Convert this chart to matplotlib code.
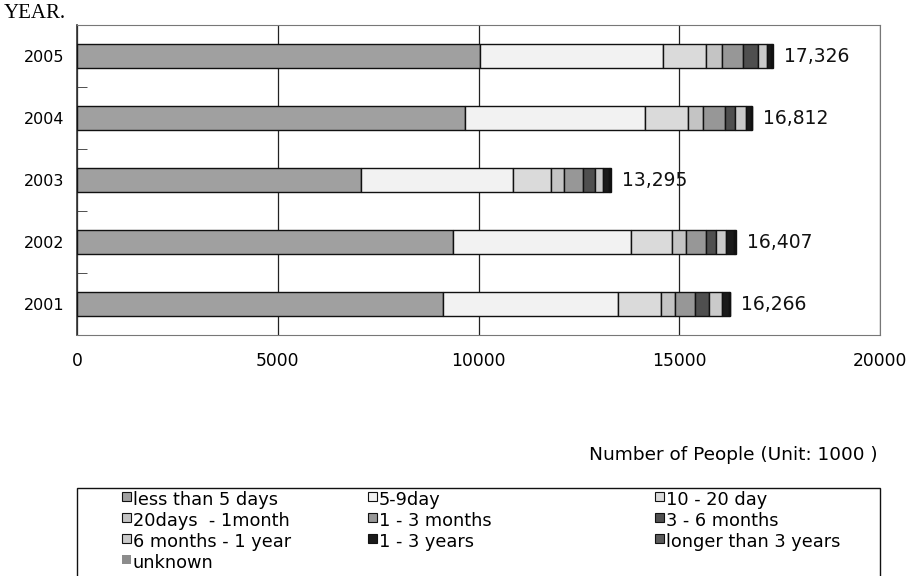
import matplotlib
matplotlib.use("Agg")
import matplotlib.pyplot as plt
from matplotlib.patches import Rectangle
import numpy as np

years = ["2001", "2002", "2003", "2004", "2005"]
categories = ["less than 5 days", "5-9day", "10 - 20 day", "20days  - 1month",
              "1 - 3 months", "3 - 6 months", "6 months - 1 year", "1 - 3 years",
              "longer than 3 years", "unknown"]
# values per category, for years 2001..2005
less5 = [9117, 9375, 7068, 9660, 10035]
d5_9 = [4358, 4418, 3782, 4483, 4550]
d10_20 = [1060, 1017, 960, 1082, 1083]
d20_1m = [358, 350, 308, 375, 392]
m1_3 = [500, 500, 482, 543, 540]
m3_6 = [350, 258, 293, 250, 350]
m6_1y = [317, 250, 207, 275, 235]
y1_3 = [180, 200, 160, 110, 110]
y3plus = [16, 25, 20, 22, 20]
unknown = [10, 14, 15, 12, 11]
totals = [16266, 16407, 13295, 16812, 17326]
total_labels = ["16,266", "16,407", "13,295", "16,812", "17,326"]

series = [less5, d5_9, d10_20, d20_1m, m1_3, m3_6, m6_1y, y1_3, y3plus, unknown]
colors = ["#a0a0a0", "#f2f2f2", "#dadada", "#c4c4c4", "#979797", "#4f4f4f",
          "#cacaca", "#1a1a1a", "#5a5a5a", "#8c8c8c"]

plt.rcParams['font.family'] = ['DejaVu Sans']

W, H = 920, 576
fig = plt.figure(figsize=(W/100, H/100), dpi=100)
ax = fig.add_axes([77/W, 1-335/H, 803/W, 310/H])

y = np.arange(len(years))
left = np.zeros(len(years))
for vals, col in zip(series, colors):
    ax.barh(y, vals, left=left, height=0.4, color=col, edgecolor="#111111", linewidth=1.0, zorder=3)
    left += np.array(vals)

for yi, t, lab in zip(y, totals, total_labels):
    ax.text(t + 280, yi, lab, va="center", ha="left", fontsize=13.5, color="#111111")

ax.set_xlim(0, 20000)
ax.set_ylim(-0.5, 4.5)
ax.set_xticks([0, 5000, 10000, 15000, 20000])
ax.set_xticklabels(["0", "5000", "10000", "15000", "20000"], fontsize=12.3)
ax.set_yticks(y)
ax.set_yticklabels(years, fontsize=11.5)
ax.set_yticks(np.arange(0.5, 4.5, 1.0), minor=True)
ax.tick_params(axis="y", which="major", length=0, pad=9)
ax.tick_params(axis="y", which="minor", length=7, direction="in", color="#333333")
ax.tick_params(axis="x", length=0, pad=12)
ax.grid(axis="x", color="#222222", linewidth=0.9, zorder=0)
for s in ["top", "right", "bottom"]:
    ax.spines[s].set_color("#777777")
ax.spines["left"].set_color("#333333")
ax.spines["left"].set_linewidth(1.2)

fig.text(878/W, 1-455/H, "Number of People (Unit: 1000 )", ha="right", va="center", fontsize=13.3)
fig.text(4/W, 1-13/H, "YEAR.", ha="left", va="center", fontsize=15,
         family=["Liberation Serif", "DejaVu Serif"])

# legend box (bottom cut off by figure edge)
fig.patches.append(Rectangle((77/W, -0.02), 803/W, 0.02 + (576-488)/H, transform=fig.transFigure,
                             facecolor="white", edgecolor="#111111", linewidth=1.0))
col_x = [122, 368, 655]
row_y = [500, 521, 542, 563]
msize = 9
for i in range(len(categories)):
    r, c = divmod(i, 3)
    mx, my = col_x[c], row_y[r] - 4
    ec = "none" if categories[i] == "unknown" else "#111111"
    fig.patches.append(Rectangle((mx/W, 1-(my+msize/2)/H), msize/W, msize/H,
                                 transform=fig.transFigure, facecolor=colors[i],
                                 edgecolor=ec, linewidth=0.8))
    fig.text((mx+msize+2)/W, 1-row_y[r]/H, categories[i], ha="left", va="center", fontsize=12.8)

fig.savefig("out.png", dpi=100)
